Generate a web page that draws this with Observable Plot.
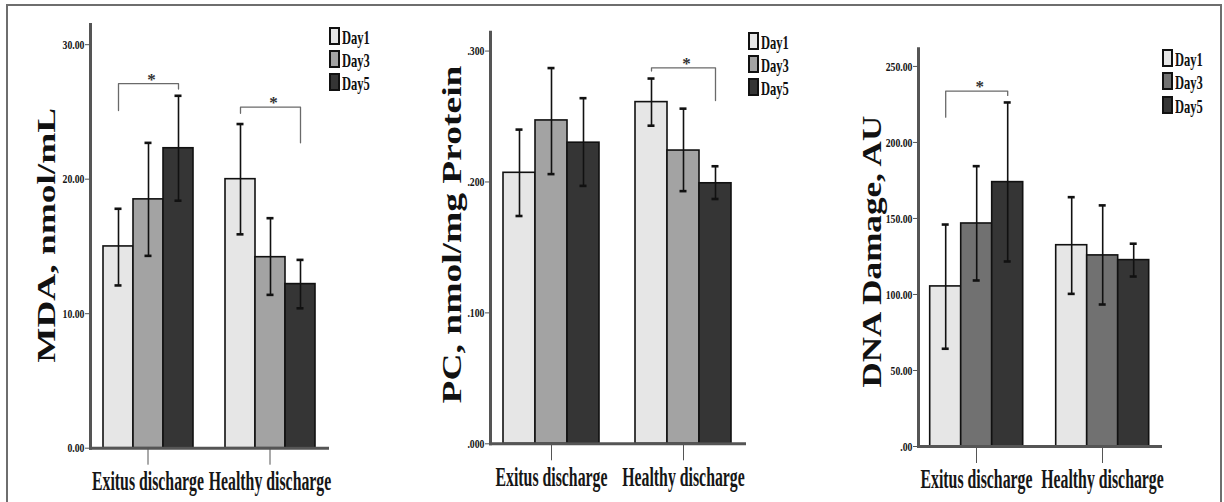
<!DOCTYPE html>
<html>
<head>
<meta charset="utf-8">
<script src="https://cdn.jsdelivr.net/npm/d3@7"></script>
<script src="https://cdn.jsdelivr.net/npm/@observablehq/plot@0.6"></script>
<style>
  body { margin: 0; background: #fff; }
  #fig { position: relative; width: 1224px; height: 502px; overflow: hidden; background: #fff; font-family: "Liberation Serif", "Times New Roman", serif; }
  #frame { position: absolute; left: 6px; top: 4px; width: 1216px; height: 540px; border: 2px solid #6e6e6e; box-sizing: border-box; z-index: 5; pointer-events: none; }
  .panel { position: absolute; top: 0; }
  .legend { position: absolute; z-index: 4; }
  .legend .row { display: flex; align-items: center; height: 18px; margin-bottom: 5.3px; }
  .legend .sw { width: 11px; height: 18px; border: 2px solid #111; box-sizing: border-box; flex: none; }
  .legend .lab { font-weight: bold; font-size: 19px; line-height: 18px; color: #111; transform: scaleX(0.66); transform-origin: left center; margin-left: 2px; white-space: nowrap; position: relative; top: 2px; }
</style>
</head>
<body>
<div id="fig"><div id="frame"></div></div>
<script>
// ---------- data ----------
const groups = ["Exitus discharge", "Healthy discharge"];
const days = ["Day1", "Day3", "Day5"];

// MDA, nmol/mL  (rows: groups, cols: days)
const mdaMean = [[15.0, 18.5, 22.3], [20.0, 14.2, 12.2]];
const mdaLow  = [[12.1, 14.3, 18.4], [15.9, 11.4, 10.4]];
const mdaHigh = [[17.8, 22.7, 26.2], [24.1, 17.1, 14.0]];
const mdaTicks = [0, 10, 20, 30];
const mdaTickLabels = ["0.00", "10.00", "20.00", "30.00"];
const mdaBrackets = [["Exitus discharge", 25.1, 27.1, 26.7], ["Healthy discharge", 24.9, 25.35, 22.7]];

// PC, nmol/mg Protein
const pcMean = [[0.207, 0.247, 0.230], [0.261, 0.224, 0.199]];
const pcLow  = [[0.174, 0.206, 0.197], [0.243, 0.193, 0.187]];
const pcHigh = [[0.240, 0.287, 0.264], [0.279, 0.256, 0.212]];
const pcTicks = [0, 0.1, 0.2, 0.3];
const pcTickLabels = [".000", ".100", ".200", ".300"];
const pcBrackets = [["Healthy discharge", 0.2847, 0.2872, 0.2622]];

// DNA Damage, AU
const dnaMean = [[105.3, 146.7, 173.9], [132.4, 125.7, 122.6]];
const dnaLow  = [[64.3, 109.2, 121.7], [100.4, 93.4, 111.8]];
const dnaHigh = [[146.0, 184.4, 226.3], [164.0, 158.6, 133.4]];
const dnaTicks = [0, 50, 100, 150, 200, 250];
const dnaTickLabels = [".00", "50.00", "100.00", "150.00", "200.00", "250.00"];
const dnaBrackets = [["Exitus discharge", 216.6, 233.8, 230.9]];

const labels = ["MDA, nmol/mL", "PC, nmol/mg Protein", "DNA Damage, AU"];
const colorsA = ["#e6e6e6", "#a3a3a3", "#353535"];
const colorsB = ["#e6e6e6", "#717171", "#353535"];

// ---------- drawing ----------
const fig = document.getElementById("fig");
const SVGNS = "http://www.w3.org/2000/svg";

// squeeze a text horizontally (on screen) around its anchor, by wrapping it in a scaled <g>
function squeezeX(t, k, anchor) {
  const parent = t.parentNode;
  const r = t.getBoundingClientRect();
  const sx = anchor === "end" ? r.right : (r.left + r.right) / 2;
  const p = new DOMPoint(sx, r.top).matrixTransform(parent.getScreenCTM().inverse());
  const g = document.createElementNS(SVGNS, "g");
  g.setAttribute("transform", `translate(${p.x},0) scale(${k},1) translate(${-p.x},0)`);
  parent.insertBefore(g, t);
  g.appendChild(t);
}

function panel(o) {
  const rows = [];
  groups.forEach((g, gi) => days.forEach((d, di) => rows.push({
    group: g, day: d, mean: o.means[gi][di], lo: o.lows[gi][di], hi: o.highs[gi][di]
  })));
  const bpts = [];
  o.brackets.forEach(([g, l, t, r], i) => {
    bpts.push({id: i, group: g, day: days[0], v: l}, {id: i, group: g, day: days[0], v: t},
              {id: i, group: g, day: days[2], v: t}, {id: i, group: g, day: days[2], v: r});
  });
  const stars = o.brackets.map(([g, l, t, r]) => ({group: g, day: days[1], v: t}));

  const svg = Plot.plot({
    width: o.width, height: 502,
    marginLeft: o.mL, marginRight: o.mR, marginTop: o.mT, marginBottom: o.mB,
    style: {fontFamily: "'Liberation Serif', 'Times New Roman', serif", background: "transparent", overflow: "visible", color: "#161616"},
    fx: {domain: groups, paddingInner: o.fxPad, paddingOuter: 0, label: null, axis: null},
    x: {domain: days, paddingInner: 0, paddingOuter: o.xPad, axis: null},
    y: {domain: [0, o.yMax], axis: null},
    color: {domain: days, range: o.colors},
    marks: [
      Plot.barY(rows, {fx: "group", x: "day", y: "mean", fill: "day", stroke: "#111", strokeWidth: 1.6}),
      Plot.ruleX(rows, {fx: "group", x: "day", y1: "lo", y2: "hi", stroke: "#111", strokeWidth: 1.6}),
      Plot.tickY(rows, {fx: "group", x: "day", y: "lo", stroke: "#111", strokeWidth: 2.6, insetLeft: o.cap, insetRight: o.cap}),
      Plot.tickY(rows, {fx: "group", x: "day", y: "hi", stroke: "#111", strokeWidth: 2.6, insetLeft: o.cap, insetRight: o.cap}),
      Plot.line(bpts, {fx: "group", x: "day", y: "v", z: "id", stroke: "#6a6a6a", strokeWidth: 1.3}),
      Plot.text(stars, {fx: "group", x: "day", y: "v", text: () => "*", lineAnchor: "bottom", fontSize: 17, fontWeight: "bold", dx: 3, dy: 1, fill: "#333"}),
      Plot.frame({anchor: "bottom", facet: "super", stroke: "#555", strokeWidth: 3}),
      Plot.frame({anchor: "left", facet: "super", stroke: "#555", strokeWidth: 3}),
      Plot.axisY({ticks: o.ticks, tickFormat: v => o.tickLabels[o.ticks.indexOf(v)], tickSize: 5, tickPadding: 1,
                  fontSize: 13, fontWeight: "bold", label: null, stroke: "#555", className: "ytick"}),
      Plot.axisFx({anchor: "bottom", tickSize: 17, tickPadding: 5, fontSize: 28, fontWeight: "bold",
                   label: null, stroke: "#555", className: "fxlab"}),
      Plot.text([o.label], {text: d => d, frameAnchor: "left", textAnchor: "middle", lineAnchor: "middle", rotate: -90,
                 facet: "super", dx: o.lDx, dy: o.lDy, fontSize: 30, fontWeight: "bold", fill: "#111", className: "ylab"})
    ]
  });
  svg.classList.add("panel");
  svg.style.left = o.left + "px";
  fig.appendChild(svg);
  svg.querySelectorAll(".ytick text").forEach(t => squeezeX(t, 0.75, "end"));
  svg.querySelectorAll(".fxlab text").forEach(t => squeezeX(t, 0.565, "middle"));
  svg.querySelectorAll(".ylab text").forEach(t => {
    const L = t.getComputedTextLength();          // natural length at 30px
    const F = L > 0 ? 30 * o.lLen / L : 30;        // font size giving the target length
    t.style.fontSize = F + "px";
    squeezeX(t, o.lCap / (0.66 * F), "middle");    // squeeze glyph height (horizontal on screen)
  });

  const lg = document.createElement("div");
  lg.className = "legend";
  lg.style.left = o.legX + "px";
  lg.style.top = o.legY + "px";
  days.forEach((d, i) => {
    const row = document.createElement("div"); row.className = "row";
    const sw = document.createElement("div"); sw.className = "sw"; sw.style.background = o.colors[i];
    const lab = document.createElement("span"); lab.className = "lab"; lab.textContent = d;
    row.appendChild(sw); row.appendChild(lab); lg.appendChild(row);
  });
  fig.appendChild(lg);
}

panel({left: 0, width: 410, mL: 90, mR: 82, mT: 24, mB: 54.3, yMax: 31.5, fxPad: 0.057, xPad: 0.414, cap: 11.5,
       means: mdaMean, lows: mdaLow, highs: mdaHigh, ticks: mdaTicks, tickLabels: mdaTickLabels, brackets: mdaBrackets,
       colors: colorsA, label: labels[0], lDx: -43, lDy: -1, lLen: 255, lCap: 16, legX: 329, legY: 26.7});

panel({left: 410, width: 400, mL: 80, mR: 65, mT: 31.7, mB: 58.7, yMax: 0.3144, fxPad: 0.0755, xPad: 0.385, cap: 12.5,
       means: pcMean, lows: pcLow, highs: pcHigh, ticks: pcTicks, tickLabels: pcTickLabels, brackets: pcBrackets,
       colors: colorsA, label: labels[1], lDx: -38, lDy: -3.5, lLen: 338, lCap: 18, legX: 748, legY: 31.7});

panel({left: 810, width: 414, mL: 108.3, mR: 64, mT: 48.3, mB: 56, yMax: 261.6, fxPad: 0.082, xPad: 0.36, cap: 12,
       means: dnaMean, lows: dnaLow, highs: dnaHigh, ticks: dnaTicks, tickLabels: dnaTickLabels, brackets: dnaBrackets,
       colors: colorsB, label: labels[2], lDx: -46.6, lDy: 4, lLen: 272, lCap: 18, legX: 1162, legY: 49});
</script>
</body>
</html>
